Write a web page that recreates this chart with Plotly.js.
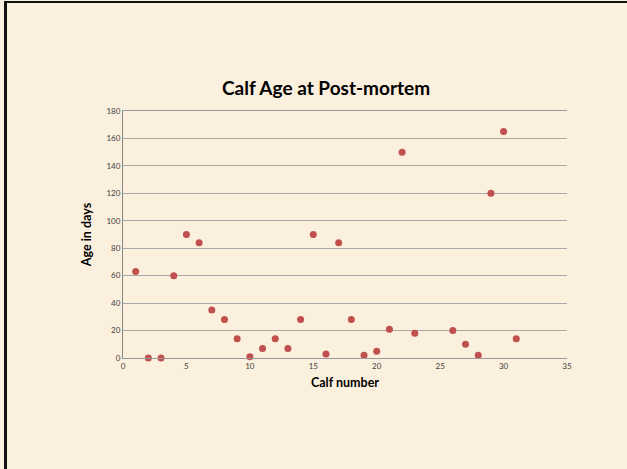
<!DOCTYPE html>
<html>
<head>
<meta charset="utf-8">
<script src="https://cdn.plot.ly/plotly-3.0.1.min.js"></script>
<style>
html,body{margin:0;padding:0;background:#FBEFDD;}
#wrap{position:relative;width:627px;height:469px;}
#chart{width:627px;height:469px;}
#frame{position:absolute;left:4px;top:1px;width:623px;height:468px;border-left:3px solid #111;border-top:2px solid #111;pointer-events:none;box-sizing:border-box;}
</style>
</head>
<body>
<div id="wrap"><div id="chart"></div><div id="frame"></div></div>
<script>
var calfNumber = [1,2,3,4,5,6,7,8,9,10,11,12,13,14,15,16,17,18,19,20,21,22,23,26,27,28,29,30,31];
var ageDays    = [63,0,0,60,90,84,35,28,14,1,7,14,7,28,90,3,84,28,2,5,21,150,18,20,10,2,120,165,14];
var titleText = "Calf Age at Post-mortem";
var xTitle = "Calf number";
var yTitle = "Age in days";

var trace = {
  x: calfNumber, y: ageDays, type: 'scatter', mode: 'markers',
  marker: {color: '#C0504D', size: 7},
  cliponaxis: false, hoverinfo: 'x+y'
};
var layout = {
  width: 627, height: 469,
  paper_bgcolor: '#FBEFDD', plot_bgcolor: '#FBEFDD',
  margin: {l: 123, r: 60, t: 111, b: 111, pad: 0},
  showlegend: false,
  font: {family: 'Lato, "Open Sans", sans-serif', color: '#404040'},
  title: {text: '<b>' + titleText + '</b>', font: {size: 19, color: '#000', family: 'Lato, sans-serif'},
          x: 0.52, xanchor: 'center', y: 0.812, yanchor: 'middle'},
  xaxis: {range: [0, 35], dtick: 5, tick0: 0, showgrid: false, zeroline: false,
          showline: true, linecolor: '#999', linewidth: 1, ticks: '', mirror: true,
          tickfont: {size: 8, color: '#404040'},
          title: {text: '<b>' + xTitle + '</b>', font: {size: 12.5, color: '#000'}, standoff: 8}},
  yaxis: {range: [0, 180], dtick: 20, tick0: 0, showgrid: true, gridcolor: '#A8A8A8', gridwidth: 1,
          zeroline: false, showline: true, linecolor: '#888', linewidth: 1, ticks: '',
          tickfont: {size: 8, color: '#404040'},
          title: {text: '<b>' + yTitle + '</b>', font: {size: 12.5, color: '#000'}, standoff: 12}}
};
Plotly.newPlot('chart', [trace], layout, {displayModeBar: false, staticPlot: true});
</script>
</body>
</html>
